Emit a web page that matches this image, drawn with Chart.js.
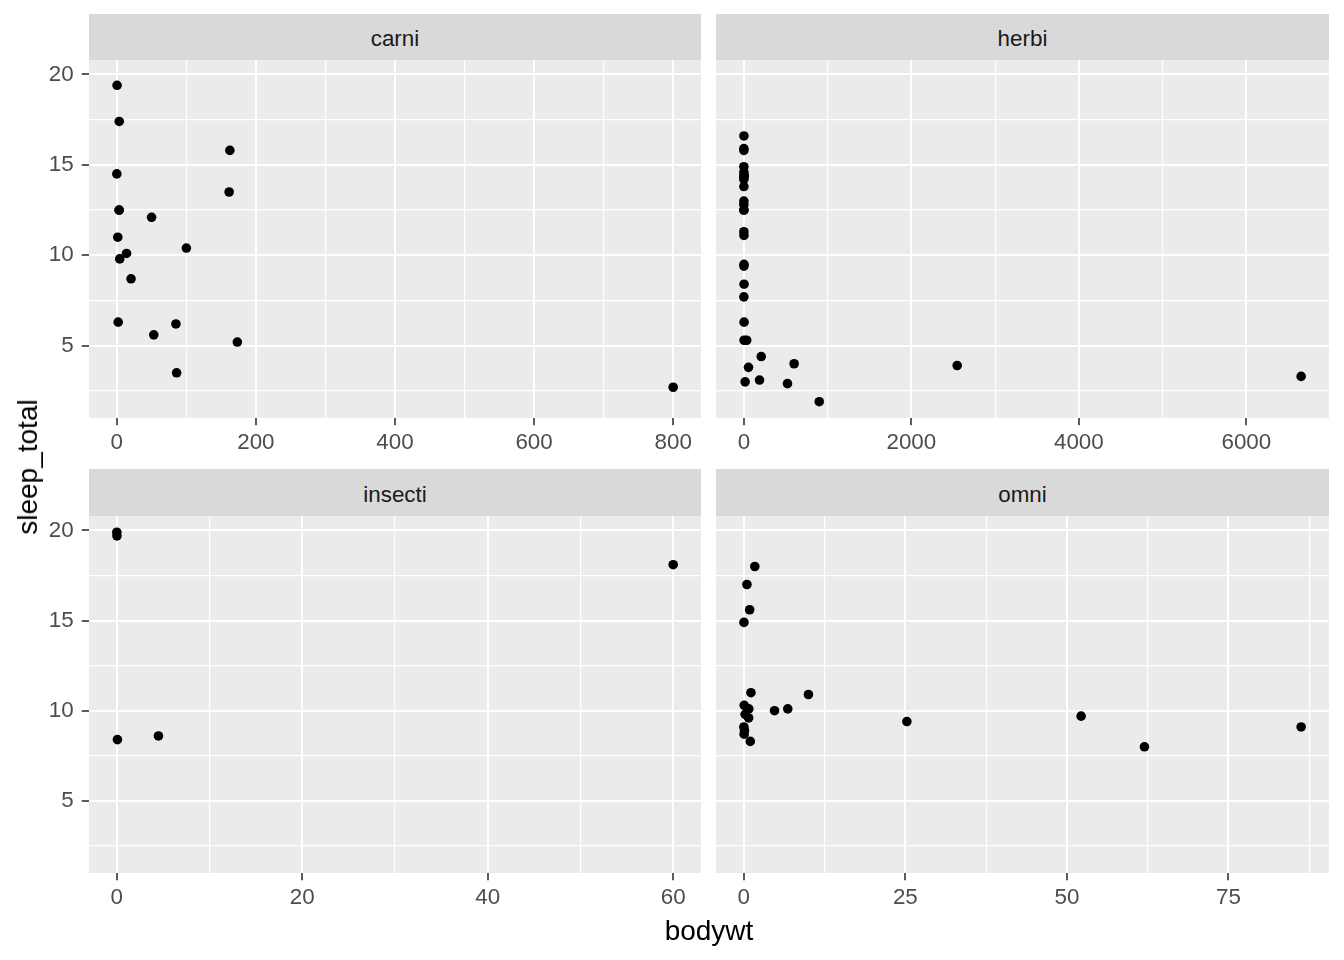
<!DOCTYPE html>
<html>
<head>
<meta charset="utf-8">
<script src="https://cdn.jsdelivr.net/npm/chart.js@4"></script>
<style>
  body { margin: 0; background: #fff; font-family: "Liberation Sans", Arial, sans-serif; }
  #wrap { position: relative; width: 1344px; height: 960px; overflow: hidden; }
  .box { position: absolute; }
  .strip { position: absolute; background: #D9D9D9; color: #1A1A1A; font-size: 22.4px;
           display: flex; align-items: center; justify-content: center; box-sizing: border-box; padding-top: 4px; }
  .title { position: absolute; color: #000; font-size: 28px; white-space: nowrap; }
</style>
</head>
<body>
<div id="wrap">
  <div class="box" style="left:0;top:60px;width:701px;height:408px"><canvas id="c0"></canvas></div>
  <div class="box" style="left:716px;top:60px;width:613px;height:408px"><canvas id="c1"></canvas></div>
  <div class="box" style="left:0;top:516px;width:701px;height:407px"><canvas id="c2"></canvas></div>
  <div class="box" style="left:716px;top:516px;width:613px;height:407px"><canvas id="c3"></canvas></div>
  <div class="strip" style="left:89px;top:14px;width:612px;height:46px">carni</div>
  <div class="strip" style="left:716px;top:14px;width:613px;height:46px">herbi</div>
  <div class="strip" style="left:89px;top:469px;width:612px;height:47px">insecti</div>
  <div class="strip" style="left:716px;top:469px;width:613px;height:47px">omni</div>
  <div class="title" style="left:709px;top:931px;transform:translate(-50%,-50%)">bodywt</div>
  <div class="title" style="left:28px;top:467px;transform:translate(-50%,-50%) rotate(-90deg)">sleep_total</div>
</div>
<script>
// msleep, split by vore (NA rows dropped)
const carniWt = [50, 20.49, 14, 3.5, 3.3, 800, 85, 0.37, 1.4, 0.028, 162.564, 100, 161.499, 86, 53.18, 173.33, 2, 3.38, 4.23];
const carniSleep = [12.1, 8.7, 10.1, 17.4, 12.5, 2.7, 6.2, 19.4, 11.0, 14.5, 15.8, 10.4, 13.5, 3.5, 5.6, 5.2, 6.3, 12.5, 9.8];

const herbiWt = [1.35, 600, 3.85, 14.8, 33.5, 0.728, 0.42, 2.95, 2547, 521, 187, 0.071, 899.995, 2.625, 1.67, 6654,
  0.053, 0.12, 0.035, 0.022, 0.266, 0.21, 2.5, 55.5, 1.1, 0.32, 0.148, 0.92, 0.101, 0.205, 0.112, 207.501];
const herbiSleep = [14.4, 4.0, 14.4, 3.0, 5.3, 9.4, 12.5, 5.3, 3.9, 2.9, 3.1, 14.9, 1.9, 6.3, 9.5, 3.3,
  14.2, 14.3, 12.8, 12.5, 14.6, 7.7, 8.4, 3.8, 11.1, 13.0, 11.3, 16.6, 13.8, 15.9, 15.8, 4.4];

const insectiWt = [0.023, 0.01, 60, 0.075, 4.5];
const insectiSleep = [19.7, 19.9, 18.1, 8.4, 8.6];

const omniWt = [0.48, 0.019, 4.75, 0.06, 1.0, 0.005, 1.7, 0.77, 10, 0.2, 62, 6.8, 52.2, 25.235, 1.1, 0.044, 0.743, 86.25, 0.9, 0.104];
const omniSleep = [17.0, 14.9, 10.0, 10.3, 8.3, 9.1, 18.0, 10.1, 10.9, 9.8, 8.0, 10.1, 9.7, 9.4, 11.0, 8.7, 9.6, 9.1, 15.6, 8.9];

// tick values (major labelled, minor only as grid lines)
const yMajor = [5, 10, 15, 20];
const yMinor = [2.5, 7.5, 12.5, 17.5];
const carniMajor = [0, 200, 400, 600, 800];
const carniMinor = [100, 300, 500, 700];
const herbiMajor = [0, 2000, 4000, 6000];
const herbiMinor = [1000, 3000, 5000];
const insectiMajor = [0, 20, 40, 60];
const insectiMinor = [10, 30, 50];
const omniMajor = [0, 25, 50, 75];
const omniMinor = [12.5, 37.5, 62.5, 87.5];

const allSleep = carniSleep.concat(herbiSleep, insectiSleep, omniSleep);

function expand(vals) {
  const lo = Math.min(...vals), hi = Math.max(...vals);
  const pad = (hi - lo) * 0.05;
  return [lo - pad, hi + pad];
}

const [yMin, yMax] = expand(allSleep);
const FONT = { family: '"Liberation Sans", Arial, sans-serif', size: 22.4 };

const panelBg = {
  id: 'panelBg',
  beforeDraw(chart) {
    const a = chart.chartArea, ctx = chart.ctx;
    ctx.save();
    ctx.fillStyle = '#EBEBEB';
    ctx.fillRect(a.left, a.top, a.right - a.left, a.bottom - a.top);
    ctx.restore();
  }
};

function axisOpts(major, minor, lim, horizontal, showLabels) {
  const ticksAll = major.concat(minor).sort((a, b) => a - b);
  return {
    type: 'linear',
    position: horizontal ? 'bottom' : 'left',
    min: lim[0],
    max: lim[1],
    border: { display: false },
    grid: {
      color: '#FFFFFF',
      lineWidth: c => major.includes(c.tick.value) ? 2 : 1.2,
      drawTicks: showLabels,
      tickLength: 7.3,
      tickWidth: 1.6,
      tickColor: c => major.includes(c.tick.value) ? '#333333' : 'rgba(0,0,0,0)'
    },
    ticks: {
      display: showLabels,
      autoSkip: false,
      maxRotation: 0,
      padding: horizontal ? 4 : 8,
      color: '#4D4D4D',
      font: FONT,
      callback: v => major.includes(v) ? String(v) : ''
    },
    afterBuildTicks: s => { s.ticks = ticksAll.map(v => ({ value: v })); },
    afterFit: s => {
      if (horizontal) {
        s.height = 50;
        s.paddingLeft = 0; s.paddingRight = 0;
      } else {
        s.width = showLabels ? 89 : 0;
        s.paddingTop = 0; s.paddingBottom = 0;
      }
    }
  };
}

function panel(id, wt, sleep, major, minor, leftCol) {
  const pts = wt.map((w, i) => ({ x: w, y: sleep[i] }));
  new Chart(document.getElementById(id), {
    type: 'scatter',
    data: {
      datasets: [{
        data: pts,
        backgroundColor: '#000000',
        borderWidth: 0,
        pointRadius: 4.8,
        pointHoverRadius: 4.8
      }]
    },
    options: {
      responsive: true,
      maintainAspectRatio: false,
      animation: false,
      layout: { padding: 0, autoPadding: false },
      plugins: { legend: { display: false }, tooltip: { enabled: false } },
      scales: {
        x: axisOpts(major, minor, expand(wt), true, true),
        y: axisOpts(yMajor, yMinor, [yMin, yMax], false, leftCol)
      }
    },
    plugins: [panelBg]
  });
}

panel('c0', carniWt, carniSleep, carniMajor, carniMinor, true);
panel('c1', herbiWt, herbiSleep, herbiMajor, herbiMinor, false);
panel('c2', insectiWt, insectiSleep, insectiMajor, insectiMinor, true);
panel('c3', omniWt, omniSleep, omniMajor, omniMinor, false);
</script>
</body>
</html>
